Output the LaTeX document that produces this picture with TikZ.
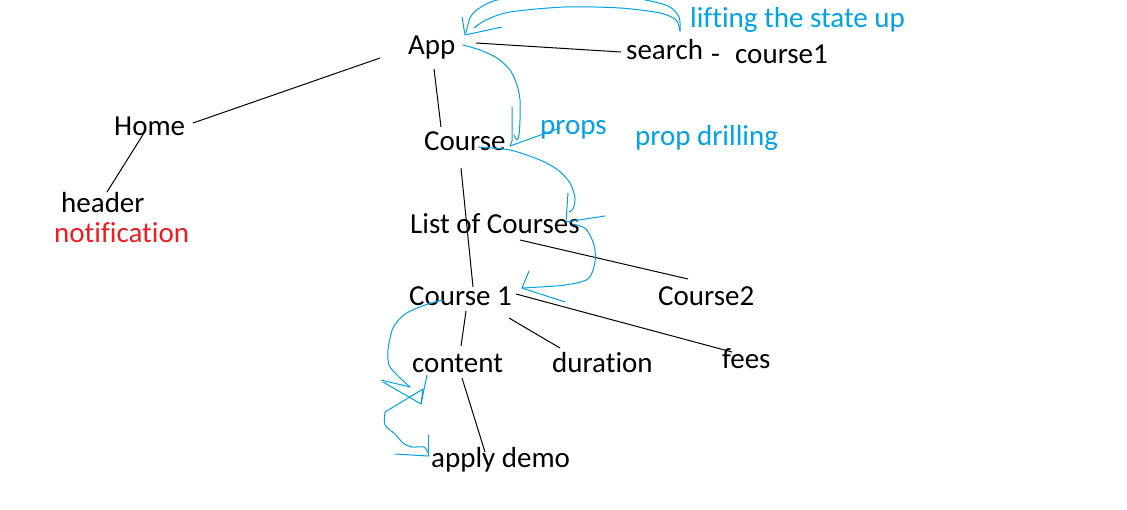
\documentclass[tikz,border=0pt]{standalone}
\usepackage{fontspec}
\setmainfont{Carlito}[Ligatures=CommonOff]
\definecolor{pblue}{HTML}{00A2E8}
\definecolor{pred}{HTML}{ED1C24}
\begin{document}
\begin{tikzpicture}[x=1pt,y=-1pt,
  every node/.style={inner sep=0pt},
  lbl/.style={anchor=base west, font=\fontsize{29}{35}\selectfont},
  bluetxt/.style={lbl, text=pblue},
  redtxt/.style={lbl, text=pred},
  link/.style={draw=black, line width=1pt},
  flow/.style={draw=pblue, line width=1pt, line join=round, line cap=round}]
\useasboundingbox[fill=white] (0,0) rectangle (1127,509);
% texts
\node[lbl] (app) at (408,54) {App};
\node[lbl] (search) at (626,59) {search};
\node[lbl] (dash) at (711,63) {-};
\node[lbl] (c1top) at (735,63) {course1};
\node[bluetxt] (lift) at (690,27) {lifting the state up};
\node[lbl] (home) at (114,135) {Home};
\node[lbl] (header) at (61,212) {header};
\node[redtxt] (notif) at (54,242) {notification};
\node[lbl] (course) at (424,150) {Course};
\node[bluetxt] (props) at (540,134) {props};
\node[bluetxt] (drill) at (635,145) {prop drilling};
\node[lbl] (list) at (410,233) {List of Courses};
\node[lbl] (cone) at (409,305) {Course 1};
\node[lbl] (ctwo) at (658,305) {Course2};
\node[lbl] (content) at (412,372) {content};
\node[lbl] (duration) at (552,372) {duration};
\node[lbl] (fees) at (722,368) {fees};
\node[lbl] (apply) at (431,467) {apply demo};
% black connectors
\coordinate (a1) at (380,58); \coordinate (h1) at (193,123);
\draw[link] (a1) -- (h1);
\coordinate (a2) at (434,69); \coordinate (co1) at (441,127);
\draw[link] (a2) -- (co1);
\coordinate (a3) at (476,43); \coordinate (s1) at (621,52);
\draw[link] (a3) -- (s1);
\coordinate (h2) at (144,133); \coordinate (hd1) at (107,192);
\draw[link] (h2) -- (hd1);
\coordinate (co2) at (461,168); \coordinate (cn1) at (473,287);
\draw[link] (co2) -- (cn1);
\coordinate (l1) at (520,240); \coordinate (ct1) at (688,279);
\draw[link] (l1) -- (ct1);
\coordinate (cn2) at (516,294); \coordinate (f1) at (732,352);
\draw[link] (cn2) -- (f1);
\coordinate (cn3) at (509,318); \coordinate (d1) at (560,348);
\draw[link] (cn3) -- (d1);
\coordinate (cn4) at (466,311); \coordinate (ct2) at (461,346);
\draw[link] (cn4) -- (ct2);
\coordinate (ct3) at (462,378); \coordinate (ap1) at (485,452);
\draw[link] (ct3) -- (ap1);
% blue flows
% lifting the state up
\draw[flow] plot[smooth] coordinates {(680,31) (679,17) (668,6) (640,-1) (600,-6) (540,-6) (497,0) (478,9) (470,18) (466,33)};
\draw[flow] plot[smooth] coordinates {(680,31) (676,20) (660,13) (620,8) (565,7) (510,12) (486,20) (474,28)};
\draw[flow] (462,17) -- (465,35) -- (502,27);
% App -> Course
\draw[flow] plot[smooth] coordinates {(463,45) (480,50) (497,58) (510,70) (517,85) (520,100) (520,120) (519,135) (517,140) (514,135)};
\draw[flow] (512,107) -- (512,141) -- (510,146) -- (560,128);
% Course -> List of Courses
\draw[flow] plot[smooth] coordinates {(478,147) (510,150) (540,160) (558,170) (570,183) (575,198) (573,209) (569,212)};
\draw[flow] (568,193) -- (566,222) -- (605,216);
% List -> Course 1
\draw[flow] plot[smooth] coordinates {(573,224) (586,229) (594,245) (595,262) (588,279) (565,285) (540,287) (522,288)};
\draw[flow] (529,271) -- (522,288) -- (565,302);
% Course 1 -> content
\draw[flow] plot[smooth] coordinates {(443,300) (425,305) (405,314) (393,328) (388,350) (389,365) (397,375) (410,387)};
\draw[flow] (381,380) -- (410,387);
\draw[flow] (383,382) -- (421,404) -- (427,375);
% content -> apply demo
\draw[flow] (421,404) -- (423,389) -- (385,412);
\draw[flow] plot[smooth] coordinates {(385,412) (385,425) (395,434) (403,443) (412,447) (424,447) (428,453)};
\draw[flow] (428,435) -- (428,456);
\draw[flow] (395,454) -- (428,456);
\end{tikzpicture}
\end{document}
